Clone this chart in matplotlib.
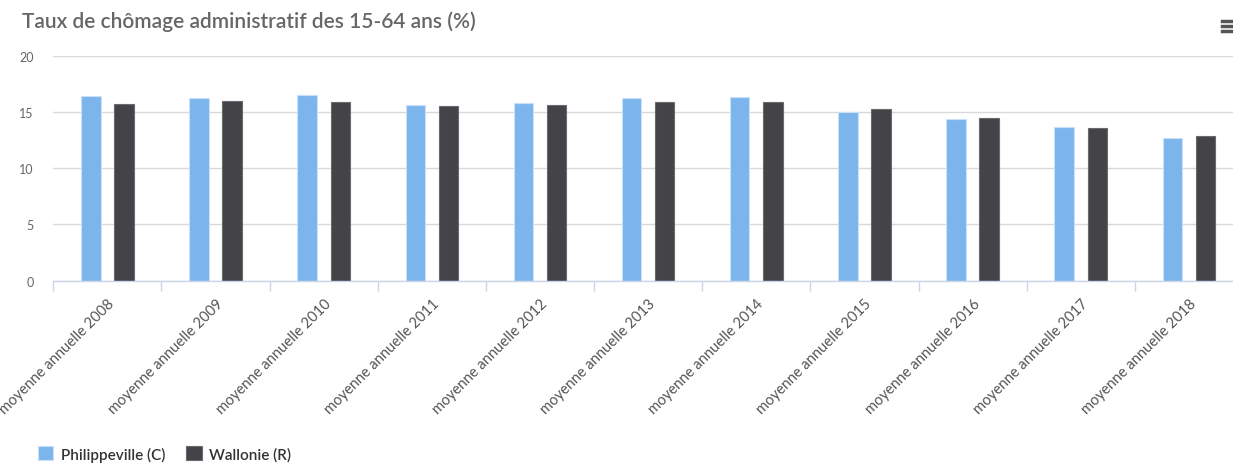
import numpy as np
import matplotlib.pyplot as plt

plt.rcParams['font.family'] = ['Lato', 'DejaVu Sans']

# data
years = ['2008', '2009', '2010', '2011', '2012', '2013',
         '2014', '2015', '2016', '2017', '2018']
labels = ['moyenne annuelle ' + y for y in years]
philippeville = [16.4, 16.2, 16.5, 15.6, 15.8, 16.2, 16.3, 15.0, 14.4, 13.7, 12.7]
wallonie = [15.7, 16.0, 15.9, 15.5, 15.6, 15.9, 15.9, 15.3, 14.5, 13.6, 12.9]
yticks = [0, 5, 10, 15, 20]

blue = '#7cb5ec'
dark = '#434348'
axis_col = '#ccd6eb'

fig = plt.figure(figsize=(12.33, 4.64), dpi=100)
# plot area runs a little past the right edge of the picture, as in the reference
ax = fig.add_axes([53.3/1233, 1 - 281.7/464, (1243 - 53.3)/1233, 225/464])

x = np.arange(len(years))
w = 0.18
off = 0.153
ax.bar(x - off, philippeville, w, color=blue, edgecolor='#c8e0f8', linewidth=0.8,
       label='Philippeville (C)', zorder=3)
ax.bar(x + off, wallonie, w, color=dark, edgecolor='#6a6a6e', linewidth=0.8,
       label='Wallonie (R)', zorder=3)

ax.set_xlim(-0.5, len(years) - 0.5)
ax.set_ylim(0, 20)
ax.set_yticks(yticks)
ax.yaxis.grid(True, color='#d9d9d9', linewidth=1, zorder=0)
ax.tick_params(axis='y', length=0, pad=14, labelsize=9, labelcolor='#666666')

for s in ['top', 'right', 'left']:
    ax.spines[s].set_visible(False)
ax.spines['bottom'].set_color(axis_col)
ax.spines['bottom'].set_linewidth(1)
ax.spines['bottom'].set_zorder(4)

ax.set_xticks(x)
ax.set_xticklabels(labels, rotation=45, ha='right', va='top',
                   rotation_mode='anchor', fontsize=10.5, color='#555555')
ax.tick_params(axis='x', which='major', length=0, pad=11)
ax.set_xticks(np.append(x - 0.5, x[-1] + 0.5), minor=True)
ax.tick_params(axis='x', which='minor', length=7, color=axis_col, width=1)

fig.text(22/1233, 1 - 22/464, 'Taux de chômage administratif des 15-64 ans (%)',
         fontsize=15, color='#666666', fontweight='semibold', va='center', ha='left')
# menu icon: three short bars
for yy in [22, 27, 32]:
    fig.add_artist(plt.Line2D([1222/1233, 1232/1233], [1 - yy/464, 1 - yy/464],
                              color='#555555', linewidth=2.5))

fig.legend(loc='center left', bbox_to_anchor=(24/1233, 1 - 455/464), ncol=2,
           frameon=False, handlelength=1.0, handleheight=1.0,
           handletextpad=0.5, columnspacing=1.4, labelcolor='#333333',
           prop={'weight': 'semibold', 'size': 11})

fig.savefig('out.png', dpi=100)
